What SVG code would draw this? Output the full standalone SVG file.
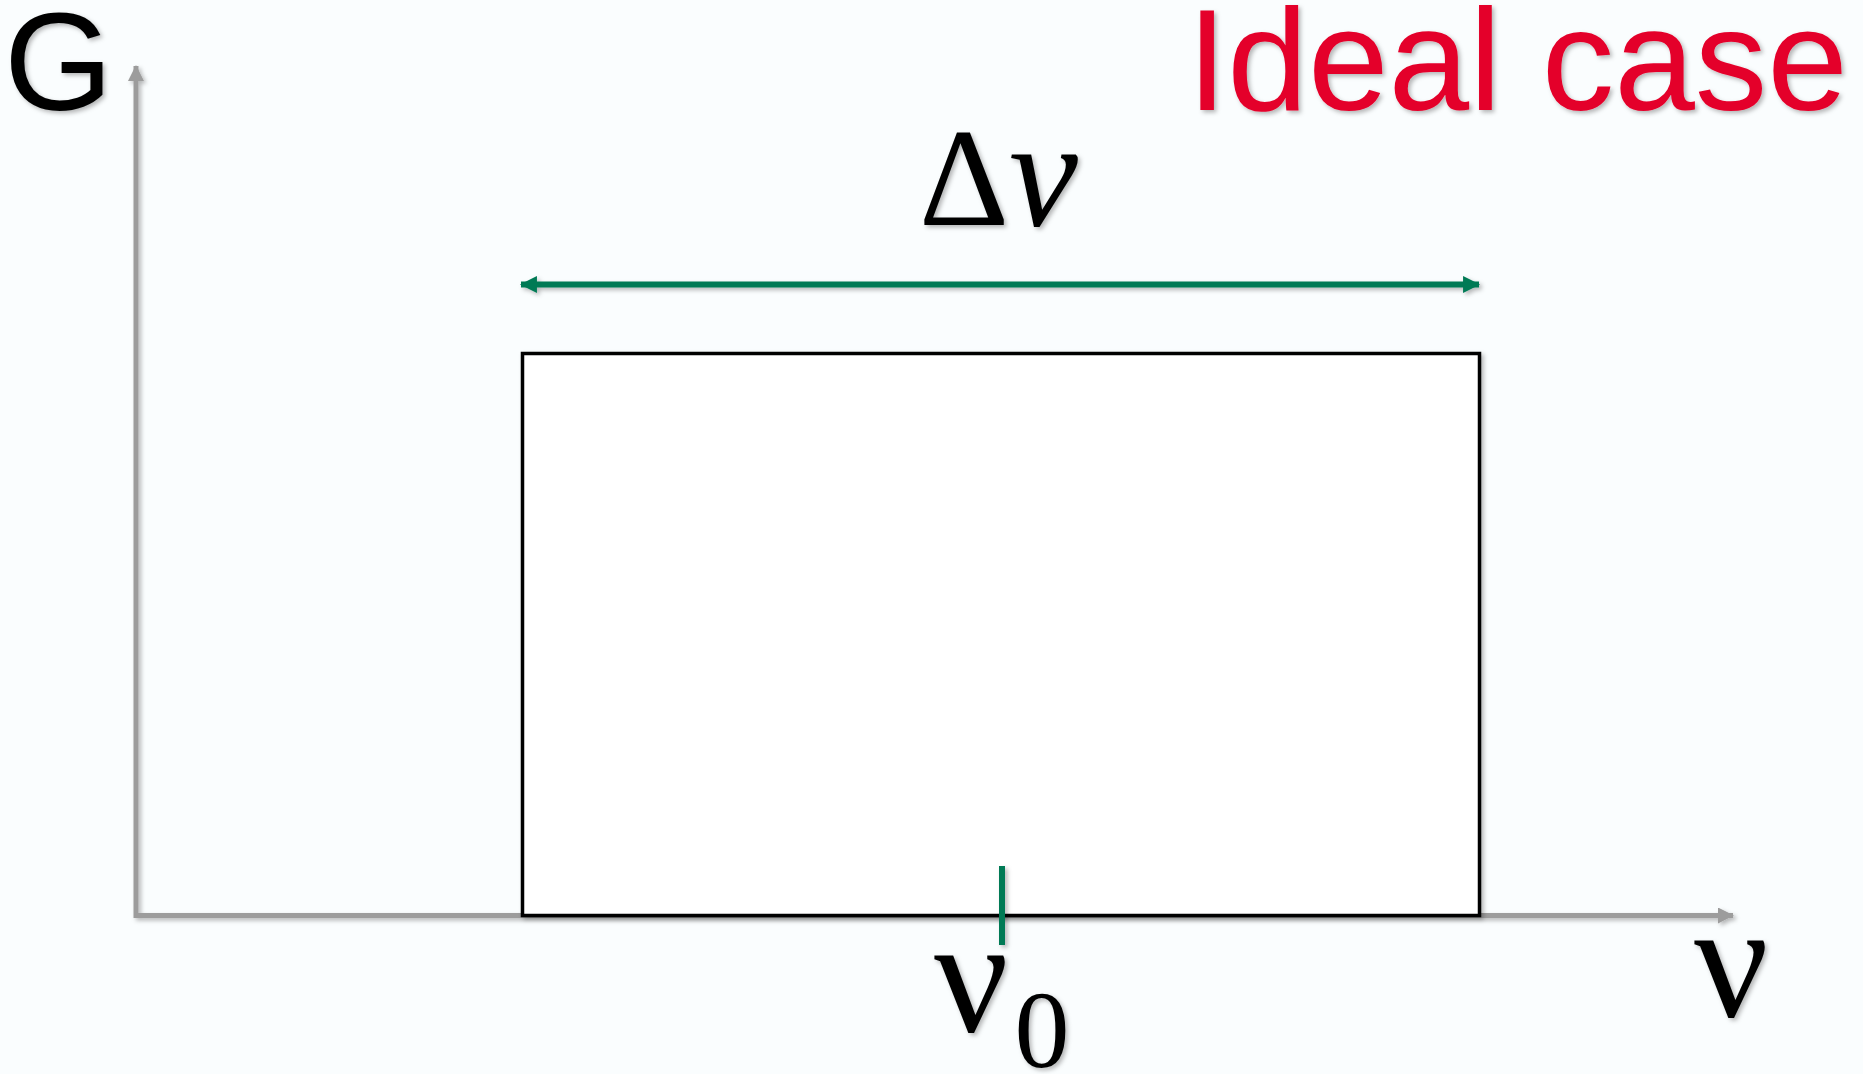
<svg xmlns="http://www.w3.org/2000/svg" width="1863" height="1074" viewBox="0 0 1863 1074">
  <style>
    .axis { stroke: #9c9c9c; stroke-width: 5; fill: none; }
    .green { stroke: #047a55; stroke-width: 6; fill: none; }
    .sans { font-family: "Liberation Sans", Arial, sans-serif; }
    .serif { font-family: "Liberation Serif", "Times New Roman", serif; }
  </style>
  <defs>
    <filter id="sh" filterUnits="userSpaceOnUse" x="0" y="0" width="1863" height="1074">
      <feDropShadow dx="2.5" dy="2.5" stdDeviation="2" flood-color="#000" flood-opacity="0.28"/>
    </filter>
    <marker id="grayHead" viewBox="0 0 16 16" refX="15" refY="8" markerUnits="userSpaceOnUse" markerWidth="16" markerHeight="16" orient="auto-start-reverse">
      <path d="M0,0 L16,8 L0,16 z" fill="#9c9c9c"/>
    </marker>
    <marker id="greenHead" viewBox="0 0 16 16" refX="15" refY="8" markerUnits="userSpaceOnUse" markerWidth="17" markerHeight="17" orient="auto-start-reverse">
      <path d="M0,0 L16,8 L0,16 z" fill="#047a55"/>
    </marker>
  </defs>
  <rect width="1863" height="1074" fill="#fafdfe"/>

  <g id="connectors" filter="url(#sh)">
    <line id="y-axis" class="axis" x1="136" y1="918" x2="136" y2="66" marker-end="url(#grayHead)"/>
    <line id="x-axis" class="axis" x1="134" y1="915.5" x2="1733" y2="915.5" marker-end="url(#grayHead)"/>
    <line id="delta-arrow" class="green" x1="521" y1="284.5" x2="1479" y2="284.5" marker-start="url(#greenHead)" marker-end="url(#greenHead)"/>
  </g>

  <g id="box" filter="url(#sh)">
    <rect x="522.5" y="353.5" width="957" height="562" fill="#ffffff" stroke="#000" stroke-width="3.5"/>
  </g>

  <g id="tick" filter="url(#sh)">
    <line class="green" x1="1002" y1="866" x2="1002" y2="945"/>
  </g>

  <g id="labels" filter="url(#sh)">
    <text id="label-G" class="sans" x="4" y="110" font-size="140" fill="#000">G</text>
    <text id="label-title" class="sans" x="1187" y="110" font-size="145" fill="#e4002b">Ideal case</text>
    <text id="label-delta" class="serif" x="919" y="225" font-size="140" fill="#000">Δ<tspan font-style="italic" font-size="155">ν</tspan></text>
    <text id="label-nu0" class="serif" x="934" y="1031" font-size="165" fill="#000">ν<tspan font-size="110" dx="6" dy="36">0</tspan></text>
    <text id="label-nu" class="serif" x="1694" y="1016" font-size="165" fill="#000">ν</text>
  </g>
</svg>
